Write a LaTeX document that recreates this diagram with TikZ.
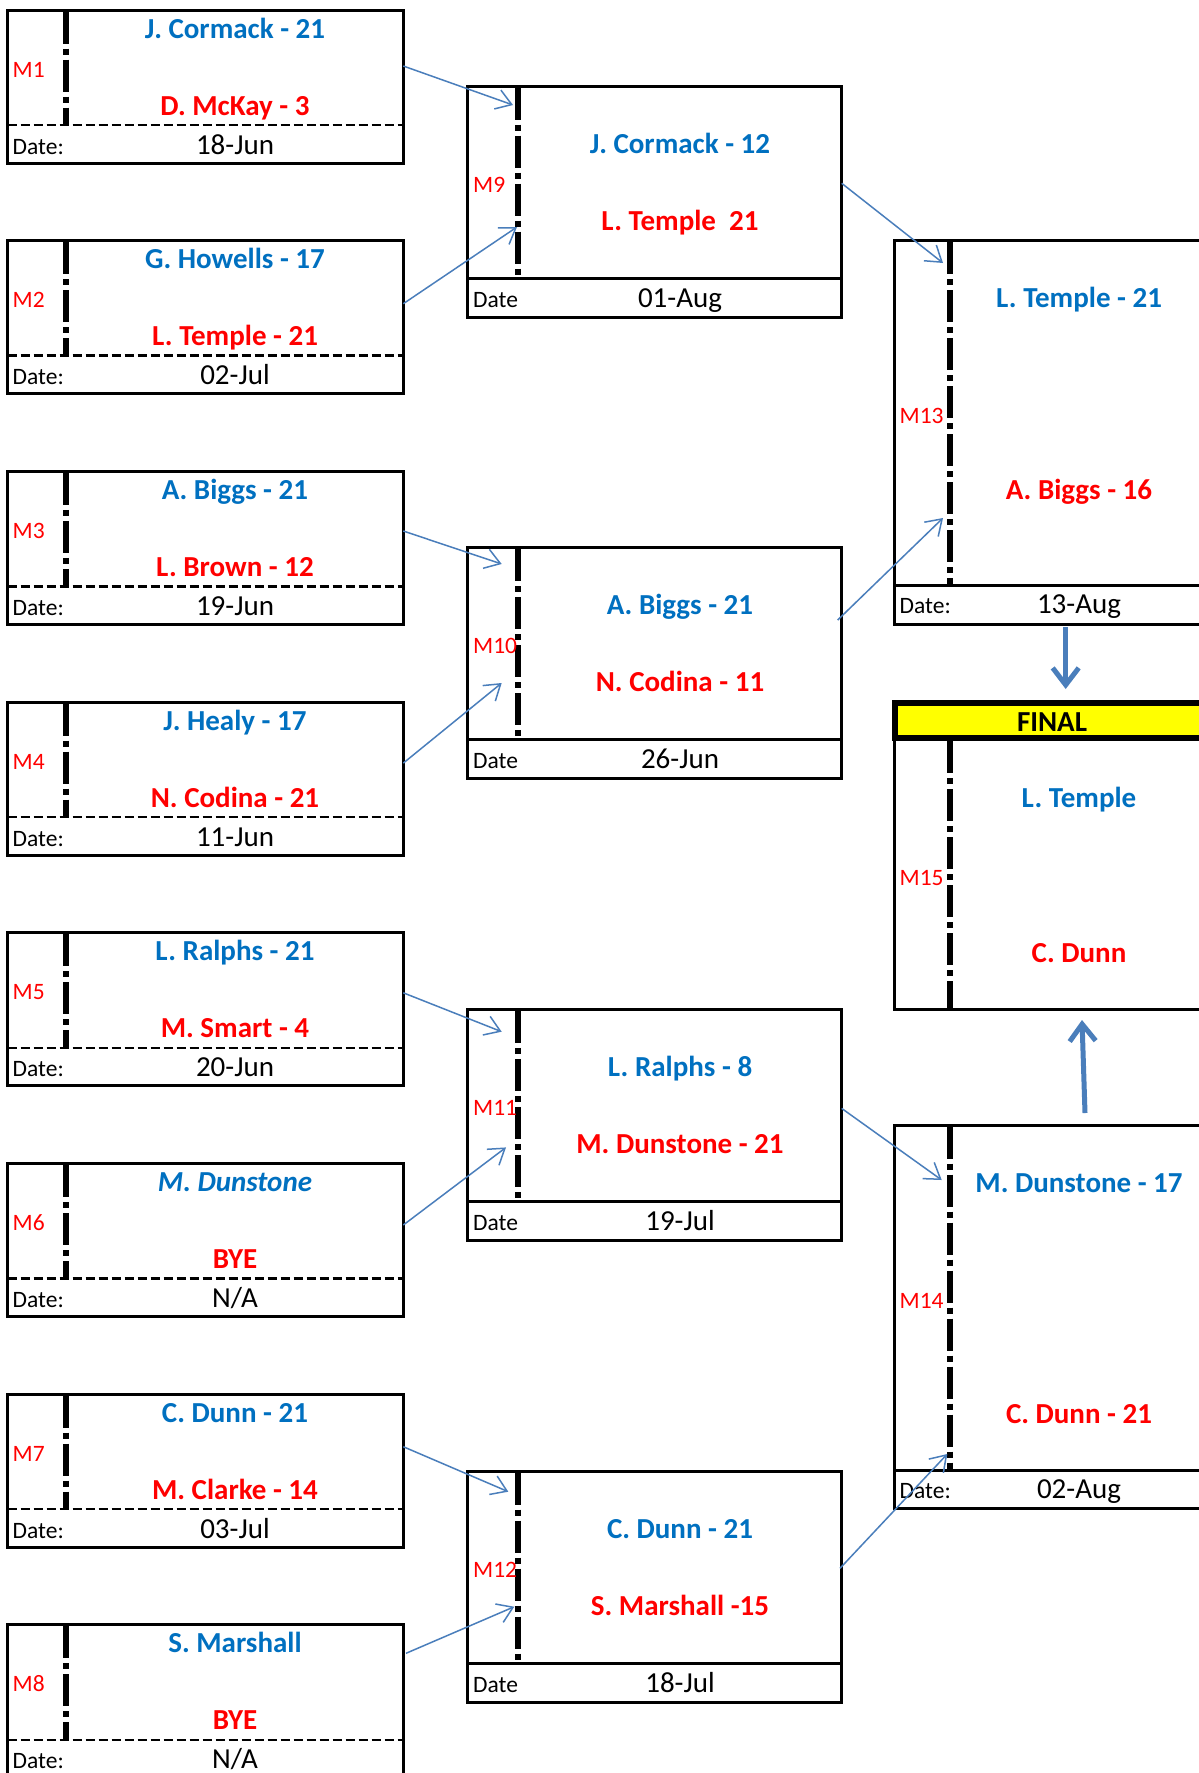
\documentclass[tikz,border=0pt]{standalone}
\usepackage{fontspec}
\setmainfont{Carlito}
\usetikzlibrary{arrows.meta,calc}
\definecolor{nameblue}{HTML}{0070C0}
\definecolor{namered}{HTML}{FF0000}
\definecolor{arrowblue}{HTML}{4A7EBB}
\definecolor{finalyellow}{HTML}{FFFF00}
\tikzset{
  box/.style={draw=black, line width=3pt, inner sep=0pt, outer sep=0pt, anchor=north west},
  finalhead/.style={draw=black, fill=finalyellow, line width=6pt, inner sep=0pt, outer sep=0pt, anchor=north west},
  sepdash/.style={line width=2.5pt, dash pattern=on 9pt off 4pt},
  sepsolid/.style={line width=3pt},
  dashdot/.style={line width=6pt, dash pattern=on 32pt off 5pt on 6pt off 5pt},
  winner/.style={font=\fontsize{29}{33}\selectfont\bfseries, text=nameblue, anchor=base, inner sep=0pt},
  loser/.style={font=\fontsize{29}{33}\selectfont\bfseries, text=namered, anchor=base, inner sep=0pt},
  finaltxt/.style={font=\fontsize{29}{33}\selectfont\bfseries, text=black, anchor=base, inner sep=0pt},
  mlabel/.style={font=\fontsize{23.5}{27}\selectfont, text=namered, anchor=base west, inner sep=0pt},
  datelabel/.style={font=\fontsize{23.5}{27}\selectfont, text=black, anchor=base west, inner sep=0pt},
  dateval/.style={font=\fontsize{29}{33}\selectfont, text=black, anchor=base, inner sep=0pt},
  feed/.style={draw=arrowblue, line width=1.5pt, -{Straight Barb[length=15pt,width=20pt]}},
  bigarrow/.style={draw=arrowblue, line width=5pt, -{Straight Barb[length=17pt,width=26pt]}},
}
% #1 id, #2 top, #3 M label, #4 winner, #5 loser, #6 date
\newcommand{\LeftMatch}[6]{%
  \node[box, minimum width=395.8pt, minimum height=153pt] (#1) at (7.5,#2) {};
  \draw[sepdash] ($(#1.north west)+(0,115)$) -- ($(#1.north east)+(0,115)$);
  \draw[dashdot] ($(#1.north west)+(58.5,1.5)$) -- ($(#1.north west)+(58.5,114)$);
  \node[mlabel] (#1-m) at ($(#1.north west)+(5,67)$) {#3};
  \node[winner] (#1-w) at ($(#1.north west)+(227.5,28)$) {#4};
  \node[loser] (#1-l) at ($(#1.north west)+(227.5,105)$) {#5};
  \node[datelabel] (#1-dl) at ($(#1.north west)+(5,144)$) {Date:};
  \node[dateval] (#1-d) at ($(#1.north west)+(227.5,144)$) {#6};
}
\newcommand{\MidMatch}[6]{%
  \node[box, minimum width=374pt, minimum height=231pt] (#1) at (467.7,#2) {};
  \draw[sepsolid] ($(#1.north west)+(0,192)$) -- ($(#1.north east)+(0,192)$);
  \draw[dashdot] ($(#1.north west)+(50,1.5)$) -- ($(#1.north west)+(50,190.5)$);
  \node[mlabel] (#1-m) at ($(#1.north west)+(5.3,106)$) {#3};
  \node[winner] (#1-w) at ($(#1.north west)+(212.3,67)$) {#4};
  \node[loser] (#1-l) at ($(#1.north west)+(212.3,144)$) {#5};
  \node[datelabel] (#1-dl) at ($(#1.north west)+(5.3,221)$) {Date};
  \node[dateval] (#1-d) at ($(#1.north west)+(212.3,221)$) {#6};
}
% #1 id, #2 top, #3 label, #4 winner, #5 loser, #6 loser baseline offset, #7 date
\newcommand{\RightMatch}[7]{%
  \node[box, minimum width=314pt, minimum height=383.5pt] (#1) at (894,#2) {};
  \draw[sepsolid] ($(#1.north west)+(0,345)$) -- ($(#1.north east)+(0,345)$);
  \draw[dashdot] ($(#1.north west)+(56,1.5)$) -- ($(#1.north west)+(56,343.5)$);
  \node[mlabel] (#1-m) at ($(#1.north west)+(5.5,183)$) {#3};
  \node[winner] (#1-w) at ($(#1.north west)+(185,67)$) {#4};
  \node[loser] (#1-l) at ($(#1.north west)+(185,#6)$) {#5};
  \node[datelabel] (#1-dl) at ($(#1.north west)+(5.5,373)$) {Date:};
  \node[dateval] (#1-d) at ($(#1.north west)+(185,373)$) {#7};
}
\begin{document}
\begin{tikzpicture}[x=1pt, y=-1pt]
\fill[white] (0,0) rectangle (1199,1773);
\useasboundingbox (0,0) rectangle (1199,1773);

% first round
\LeftMatch{m1}{10}{M1}{J. Cormack - 21}{D. McKay - 3}{18-Jun}
\LeftMatch{m2}{240.7}{M2}{G. Howells - 17}{L. Temple - 21}{02-Jul}
\LeftMatch{m3}{471.4}{M3}{A. Biggs - 21}{L. Brown - 12}{19-Jun}
\LeftMatch{m4}{702.1}{M4}{J. Healy - 17}{N. Codina - 21}{11-Jun}
\LeftMatch{m5}{932.8}{M5}{L. Ralphs - 21}{M. Smart - 4}{20-Jun}
\LeftMatch{m6}{1163.5}{M6}{\textit{M. Dunstone}}{BYE}{N/A}
\LeftMatch{m7}{1394.2}{M7}{C. Dunn - 21}{M. Clarke - 14}{03-Jul}
\LeftMatch{m8}{1624.9}{M8}{S. Marshall}{BYE}{N/A}

% second round
\MidMatch{m9}{86}{M9}{J. Cormack - 12}{L. Temple\ \ 21}{01-Aug}
\MidMatch{m10}{547.7}{M10}{A. Biggs - 21}{N. Codina - 11}{26-Jun}
\MidMatch{m11}{1009.4}{M11}{L. Ralphs - 8}{M. Dunstone - 21}{19-Jul}
\MidMatch{m12}{1471}{M12}{C. Dunn - 21}{S. Marshall -15}{18-Jul}

% semi finals
\RightMatch{m13}{240.7}{M13}{L. Temple - 21}{A. Biggs - 16}{258.6}{13-Aug}
\RightMatch{m14}{1125}{M14}{M. Dunstone - 17}{C. Dunn - 21}{298.3}{02-Aug}

% final
\node[box, minimum width=314pt, minimum height=271pt] (m15) at (894,738) {};
\draw[dashdot] ($(m15.north west)+(56,3)$) -- ($(m15.north west)+(56,270)$);
\node[finalhead, minimum width=314pt, minimum height=35pt] (m15h) at (894.7,703) {};
\node[finaltxt] (m15t) at ($(m15h.north west)+(157.3,28.7)$) {FINAL};
\node[mlabel] (m15-m) at ($(m15.north west)+(5.5,147.7)$) {M15};
\node[winner] (m15-w) at ($(m15.north west)+(185,69.7)$) {L. Temple};
\node[loser] (m15-l) at ($(m15.north west)+(185,224.3)$) {C. Dunn};

% connectors
\draw[feed] ($(m1.north east)+(0,56)$) -- ($(m9.north west)+(45.3,19)$);
\draw[feed] ($(m2.north east)+(0,63)$) -- ($(m9.north west)+(49.3,141)$);
\draw[feed] ($(m3.north east)+(0,59.6)$) -- ($(m10.north west)+(34,16.3)$);
\draw[feed] ($(m4.north east)+(0,61)$) -- ($(m10.north west)+(34,135.3)$);
\draw[feed] ($(m5.north east)+(0,60)$) -- ($(m11.north west)+(34,22.3)$);
\draw[feed] ($(m6.north east)+(0,61.5)$) -- ($(m11.north west)+(38.3,138)$);
\draw[feed] ($(m7.north east)+(0,52.5)$) -- ($(m12.north west)+(40.6,20.7)$);
\draw[feed] ($(m8.north east)+(2.7,28.4)$) -- ($(m12.north west)+(46.6,135.7)$);
\draw[feed] ($(m9.north east)+(0,97.3)$) -- ($(m13.north west)+(49,22.3)$);
\draw[feed] ($(m10.north east)+(-4,72.3)$) -- ($(m13.north west)+(49,277.3)$);
\draw[feed] ($(m11.north east)+(0,99)$) -- ($(m14.north west)+(47.7,55)$);
\draw[feed] ($(m12.north east)+(-1.7,97.3)$) -- ($(m14.north west)+(53.3,329)$);

\draw[bigarrow] ($(m13.south west)+(171.7,3)$) -- ($(m15h.north west)+(171,-14)$);
\draw[bigarrow] ($(m14.north west)+(191,-12)$) -- ($(m15.south west)+(188,11)$);
\end{tikzpicture}
\end{document}
